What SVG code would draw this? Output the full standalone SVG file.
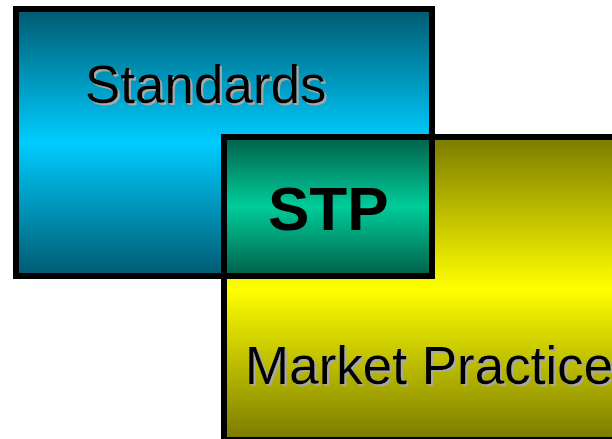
<svg xmlns="http://www.w3.org/2000/svg" width="612" height="439" viewBox="0 0 612 439">
<defs>
<linearGradient id="gBlue" x1="0" y1="0" x2="0" y2="1">
<stop offset="0" stop-color="#005A70"/>
<stop offset="0.5" stop-color="#00CCFF"/>
<stop offset="1" stop-color="#005A70"/>
</linearGradient>
<linearGradient id="gYellow" x1="0" y1="0" x2="0" y2="1">
<stop offset="0" stop-color="#7A7A00"/>
<stop offset="0.5" stop-color="#FFFF00"/>
<stop offset="1" stop-color="#7A7A00"/>
</linearGradient>
<linearGradient id="gGreen" x1="0" y1="0" x2="0" y2="1">
<stop offset="0" stop-color="#00604A"/>
<stop offset="0.5" stop-color="#00CC99"/>
<stop offset="1" stop-color="#00604A"/>
</linearGradient>
<filter id="shadow" x="-10%" y="-10%" width="120%" height="130%">
<feFlood flood-color="#A8A8A8"/>
<feComposite in2="SourceAlpha" operator="in"/>
<feOffset dx="2" dy="2" result="s"/>
<feMerge><feMergeNode in="s"/><feMergeNode in="SourceGraphic"/></feMerge>
</filter>
</defs>
<style>
.box{stroke:#000;stroke-width:6}
.lbl{font-family:"Liberation Sans",Arial,sans-serif;fill:#000}
.sh{filter:url(#shadow)}
</style>
<g id="standards">
<rect class="box" x="16" y="9" width="416" height="267" fill="url(#gBlue)"/>
<text class="lbl sh" x="85" y="103" font-size="53">Standards</text>
</g>
<g id="market-practice">
<rect class="box" x="224" y="137" width="400" height="303" fill="url(#gYellow)"/>
<text class="lbl sh" x="245" y="384" font-size="53">Market Practice</text>
</g>
<g id="stp">
<rect class="box" x="224" y="137" width="208" height="139" fill="url(#gGreen)"/>
<text class="lbl" x="268" y="230" font-size="62" font-weight="bold">STP</text>
</g>
<g id="connectors"/>
</svg>
